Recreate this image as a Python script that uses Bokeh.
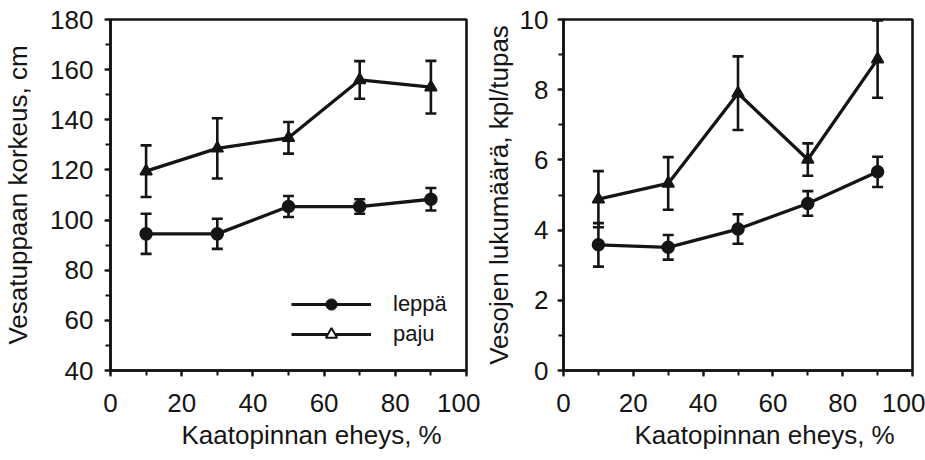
from bokeh.plotting import figure
from bokeh.layouts import row
from bokeh.models import (ColumnDataSource, Whisker, TeeHead, Legend, LegendItem,
                          SingleIntervalTicker, Range1d, Title)
from bokeh.embed import file_html
from bokeh.resources import INLINE

# ---- data ----
x_vals = [10, 30, 50, 70, 90]

height_leppa = [94.5, 94.5, 105.4, 105.4, 108.3]
height_leppa_err = [8.0, 6.0, 4.2, 2.9, 4.5]
height_paju = [119.5, 128.6, 132.8, 155.9, 153.0]
height_paju_err = [10.3, 12.0, 6.3, 7.5, 10.5]

count_leppa = [3.58, 3.51, 4.03, 4.76, 5.66]
count_leppa_err = [0.62, 0.35, 0.42, 0.35, 0.43]
count_paju = [4.88, 5.33, 7.9, 6.01, 8.87]
count_paju_err = [0.8, 0.75, 1.05, 0.46, 1.1]

x_label = "Kaatopinnan eheys, %"
y_label_left = "Vesatuppaan korkeus, cm"
y_label_right = "Vesojen lukumäärä, kpl/tupas"
legend_labels = ["leppä", "paju"]

FONT = "Liberation Sans"
INK = "#151515"
LW = 2.6
NAN = float("nan")


def style_axes(p, yint):
    for ax in (p.xaxis[0], p.yaxis[0]):
        ax.axis_line_color = INK
        ax.axis_line_width = LW
        ax.major_tick_line_color = INK
        ax.major_tick_line_width = 2
        ax.minor_tick_line_color = INK
        ax.minor_tick_line_width = 2
        ax.major_tick_in = 0
        ax.major_tick_out = 6
        ax.minor_tick_in = 0
        ax.minor_tick_out = 5
        ax.major_label_text_font = FONT
        ax.major_label_text_font_size = "26px"
        ax.major_label_text_color = INK
        ax.axis_label_text_font = FONT
        ax.axis_label_text_font_size = "26px"
        ax.axis_label_text_font_style = "normal"
        ax.axis_label_text_color = INK
    p.xaxis[0].ticker = SingleIntervalTicker(interval=20, num_minor_ticks=2)
    p.yaxis[0].ticker = SingleIntervalTicker(interval=yint, num_minor_ticks=2)
    p.xgrid.visible = False
    p.ygrid.visible = False
    p.outline_line_color = INK
    p.outline_line_width = LW
    p.outline_line_alpha = 1.0


def add_series(p, xs, ys, errs, marker, msize):
    src = ColumnDataSource(dict(x=xs, y=ys,
                                lo=[a - b for a, b in zip(ys, errs)],
                                hi=[a + b for a, b in zip(ys, errs)]))
    w = Whisker(source=src, base="x", lower="lo", upper="hi",
                line_color=INK, line_width=2.6,
                lower_head=TeeHead(size=11, line_color=INK, line_width=2.6),
                upper_head=TeeHead(size=11, line_color=INK, line_width=2.6))
    p.add_layout(w)
    p.line("x", "y", source=src, line_color=INK, line_width=3.3)
    p.scatter("x", "y", source=src, marker=marker, size=msize,
              fill_color=INK, line_color=INK, line_width=1.5)


def make_fig(width, height, left, right, top, bottom, yr, yint, ylabel, xoff):
    p = figure(width=width, height=height, output_backend="svg",
               toolbar_location=None, x_range=Range1d(0, 100), y_range=Range1d(*yr),
               min_border_left=left, min_border_right=right,
               min_border_top=top, min_border_bottom=bottom,
               background_fill_color="white", border_fill_color="white")
    style_axes(p, yint)
    p.xaxis[0].major_label_standoff = 17
    p.yaxis[0].axis_label = ylabel
    t = Title(text=x_label, align="left", offset=xoff,
              text_font=FONT, text_font_size="26px", text_font_style="normal",
              text_color=INK, standoff=6, text_line_height=0.85)
    p.add_layout(t, "below")
    return p


# ---- left panel ----
p1 = make_fig(480, 460, 106, 14, 19, 87, (40, 180), 20, y_label_left, 71)
p1.yaxis[0].major_label_standoff = 11
p1.yaxis[0].axis_label_standoff = 14
add_series(p1, x_vals, height_leppa, height_leppa_err, "circle", 12)
add_series(p1, x_vals, height_paju, height_paju_err, "triangle", 12)

# legend (dedicated renderers without drawable data so the triangle is drawn open)
lg_src = ColumnDataSource(dict(x=[NAN], y=[NAN]))
lg_l_line = p1.line("x", "y", source=lg_src, line_color=INK, line_width=3)
lg_l_mark = p1.scatter("x", "y", source=lg_src, marker="circle", size=11,
                       fill_color=INK, line_color=INK)
lg_p_line = p1.line("x", "y", source=lg_src, line_color=INK, line_width=3)
lg_p_mark = p1.scatter("x", "y", source=lg_src, marker="triangle", size=10,
                       fill_color="white", line_color=INK, line_width=2)
legend = Legend(items=[LegendItem(label=legend_labels[0], renderers=[lg_l_line, lg_l_mark]),
                       LegendItem(label=legend_labels[1], renderers=[lg_p_line, lg_p_mark])],
                location=(181, 22), orientation="vertical",
                glyph_width=80, glyph_height=28, label_height=20, spacing=2,
                label_standoff=22, padding=0, margin=0,
                border_line_alpha=0, background_fill_alpha=0,
                label_text_font=FONT, label_text_font_size="22px", label_text_color=INK)
p1.add_layout(legend)

# ---- right panel ----
p2 = make_fig(445, 460, 69, 13, 17, 90, (0, 10), 2, y_label_right, 71)
p2.yaxis[0].major_label_standoff = 9
p2.yaxis[0].axis_label_standoff = 3
add_series(p2, x_vals, count_leppa, count_leppa_err, "circle", 12)
add_series(p2, x_vals, count_paju, count_paju_err, "triangle", 12)

layout = row(p1, p2)
open("out.html", "w").write(file_html(layout, INLINE))
